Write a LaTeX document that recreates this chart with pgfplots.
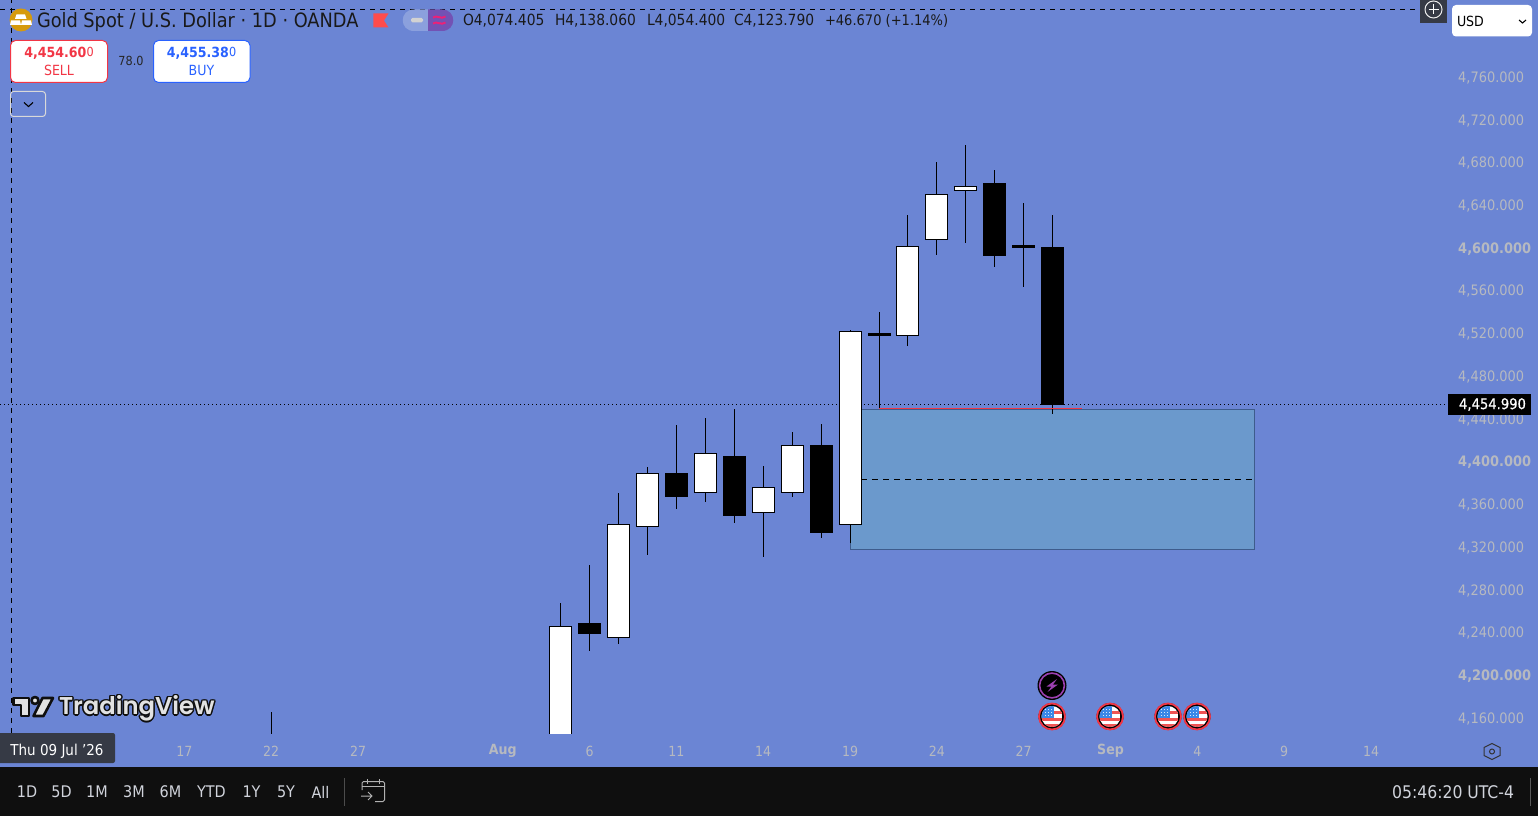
\documentclass[border=0pt]{standalone}
\usepackage{fontspec}
\setmainfont{DejaVu Sans Condensed}
\newfontfamily\heavyfont{DejaVu Sans Condensed}[FakeBold=0.5]
\newfontfamily\logofont{Poppins}[BoldFont={Poppins SemiBold}]
\usepackage{pgfplots}
\pgfplotsset{compat=1.18}

\definecolor{chartbg}{RGB}{107,133,212}
\definecolor{zonefill}{RGB}{107,153,204}
\definecolor{zoneline}{RGB}{62,92,140}
\definecolor{axistext}{RGB}{182,185,192}
\definecolor{barbg}{RGB}{15,15,15}
\definecolor{bartext}{RGB}{209,212,220}
\definecolor{tagdark}{RGB}{54,58,69}
\definecolor{tvred}{RGB}{242,54,69}
\definecolor{tvblue}{RGB}{41,98,255}
\definecolor{logoface}{RGB}{226,226,226}
\definecolor{goldicon}{RGB}{214,154,12}
\definecolor{flagblue}{RGB}{58,136,232}
\definecolor{flagred}{RGB}{240,84,84}
\definecolor{eventpurple}{RGB}{156,64,176}

\newcommand{\fs}[1]{\fontsize{#1}{#1}\selectfont}

% fill colour, x, low, body bottom, body top, high
\newcommand{\candle}[6]{%
  \pgfmathsetmacro{\xl}{#2-0.38}%
  \pgfmathsetmacro{\xr}{#2+0.38}%
  \addplot[black, line width=1pt] coordinates {(#2,#3) (#2,#6)};
  \addplot[fill=#1, draw=black, line width=1pt] coordinates {(\xl,#4) (\xr,#4) (\xr,#5) (\xl,#5)} --cycle;
}

% economic calendar flag
\newcommand{\usflag}[2]{%
  \fill[black] (#1,#2) circle (13.5);
  \draw[tvred,line width=1.8pt] (#1,#2) circle (13);
  \begin{scope}
    \clip (#1,#2) circle (10.5);
    \fill[white] (#1-11,#2-11) rectangle (#1+11,#2+11);
    \fill[flagred] (#1-11,#2-6) rectangle (#1+11,#2-3);
    \fill[flagred] (#1-11,#2+1.5) rectangle (#1+11,#2+4.5);
    \fill[flagred] (#1-11,#2+7.5) rectangle (#1+11,#2+11);
    \fill[flagblue] (#1-11,#2-11) rectangle (#1+1.5,#2+1.5);
    \foreach \dx in {-6.5,-3.5,-0.5}
      \foreach \dy in {-7,-4,-1}
        \fill[white!80!flagblue] (#1+\dx-0.6,#2+\dy-0.6) rectangle (#1+\dx+0.6,#2+\dy+0.6);
  \end{scope}}

\begin{document}
\begin{tikzpicture}
\path[use as bounding box] (0,-83pt) rectangle (1538pt,733pt);
\fill[chartbg] (0,-34pt) rectangle (1538pt,733pt);

\begin{axis}[
    scale only axis,
    width=1538pt,
    height=733pt,
    xmin=-29.37, xmax=23.77,
    ymin=4145.5, ymax=4831.6,
    axis line style={draw=none},
    tick style={draw=none},
    major tick length=0pt,
    ytick={4160,4200,4240,4280,4320,4360,4400,4440,4480,4520,4560,4600,4640,4680,4720,4760},
    yticklabels={{4,160.000},\textbf{4,200.000},{4,240.000},{4,280.000},{4,320.000},{4,360.000},\textbf{4,400.000},{4,440.000},{4,480.000},{4,520.000},{4,560.000},\textbf{4,600.000},{4,640.000},{4,680.000},{4,720.000},{4,760.000}},
    yticklabel pos=right,
    yticklabel style={anchor=west, xshift=-80pt, yshift=-1.3pt, inner sep=0pt, text=axistext, font=\fs{14.4}},
    xtick={-23,-20,-17,-12,-9,-6,-3,0,3,6,9,12,15,18},
    xticklabels={17,22,27,\textbf{Aug},6,11,14,19,24,27,\textbf{Sep},4,9,14},
    xticklabel style={anchor=center, yshift=-18pt, inner sep=0pt, text=axistext, font=\fs{14}},
]

  % demand zone and its midline
  \addplot[fill=zonefill, draw=zoneline, line width=1pt] coordinates {(0,4448.5) (13.97,4448.5) (13.97,4317.4) (0,4317.4)} --cycle;
  \addplot[black, line width=1pt, dash pattern=on 6pt off 5pt] coordinates {(0,4383.0) (13.97,4383.0)};

  % last price and crosshair
  \addplot[black, line width=1pt, dash pattern=on 1pt off 3pt] coordinates {(-29.37,4453.0) (20.66,4453.0)};
  \addplot[black, line width=1pt, dash pattern=on 5pt off 5pt] coordinates {(-29.37,4822.6) (19.66,4822.6)};
  \addplot[black, line width=1pt, dash pattern=on 5pt off 5pt] coordinates {(-28.97,4145.5) (-28.97,4831.6)};

  % daily candles
  \addplot[black, line width=1pt] coordinates {(-20,4120) (-20,4165.1)};
  \candle{white}{-10}{4120}{4120}{4244.9}{4267.2}
  \candle{black}{-9}{4222.5}{4238.6}{4248.0}{4302.7}
  \candle{white}{-8}{4229.1}{4235.1}{4340.4}{4370.1}
  \candle{white}{-7}{4312.4}{4339.0}{4388.1}{4394.5}
  \candle{black}{-6}{4355.4}{4366.9}{4388.4}{4433.8}
  \candle{white}{-5}{4362.0}{4370.9}{4406.8}{4440.3}
  \candle{black}{-4}{4342.3}{4349.1}{4404.3}{4448.8}
  \candle{white}{-3}{4310.5}{4352.2}{4375.0}{4395.4}
  \candle{white}{-2}{4366.7}{4370.9}{4414.3}{4427.2}
  \candle{black}{-1}{4328.3}{4333.1}{4414.6}{4434.7}
  \candle{white}{0}{4323.0}{4340.9}{4521.0}{4522.7}
  \candle{black}{1}{4449.7}{4517.6}{4519.4}{4539.6}
  \candle{white}{2}{4507.7}{4517.8}{4600.6}{4630.4}
  \candle{white}{3}{4593.2}{4607.7}{4649.3}{4680.0}
  \candle{white}{4}{4604.4}{4653.6}{4657.0}{4695.9}
  \candle{black}{5}{4581.7}{4592.4}{4659.8}{4672.5}
  \candle{black}{6}{4563.0}{4599.9}{4601.8}{4641.6}
  \candle{black}{7}{4444.4}{4453.0}{4599.9}{4630.4}

  % level drawn on the chart
  \addplot[tvred, line width=1.3pt] coordinates {(1,4449.0) (8,4449.0)};
\end{axis}

% screen furniture, in image pixels
\begin{scope}[x=1pt,y=-1pt,yshift=733pt,every node/.style={inner sep=0pt,outer sep=0pt}]
  % bottom bar
  \fill[barbg] (0,767) rectangle (1538,816);
  \foreach \xx/\lab in {27/1D,61.5/5D,97/1M,134/3M,170.5/6M,211.5/YTD,251.5/1Y,286/5Y,320.5/All}
    \node[text=bartext,font=\fs{16}] at (\xx,792) {\lab};
  \draw[gray!60!black] (344.5,778) -- (344.5,806);
  \draw[gray!60!white,line width=1pt,rounded corners=1.5] (362,790) -- (362,781.5) -- (384.5,781.5) -- (384.5,801.5) -- (375,801.5);
  \draw[gray!60!white,line width=1pt] (362,786.5) -- (384.5,786.5) (367.5,779) -- (367.5,784) (379,779) -- (379,784);
  \draw[gray!60!white,line width=1pt] (361,796) -- (372,796) (368,792) -- (372,796) -- (368,800);
  \node[anchor=east,text=bartext,font=\fs{17.4}] at (1514,792) {05:46:20 UTC-4};
  \draw[gray!70!black,line width=1pt] (1530.5,778) -- (1530.5,806);

  % time axis extras
  \fill[tagdark,rounded corners=2] (-3,733) rectangle (115,763);
  \node[text=white,font=\fs{15}] at (57,751) {Thu 09 Jul '26};
  \draw[black!80,line width=1pt] (1492,743.5) -- (1500,747.5) -- (1500,755.5) -- (1492,759.5) -- (1484,755.5) -- (1484,747.5) -- cycle;
  \draw[black!80,line width=1pt] (1492,751.5) circle (2.5);

  % header
  \fill[goldicon] (21,20) circle (11.5);
  \fill[white] (16.5,14.5) -- (25,14.5) -- (26.5,19) -- (15,19) -- cycle;
  \fill[white] (11,20.5) -- (20,20.5) -- (21,25) -- (10,25) -- cycle;
  \fill[white] (22,20.5) -- (31,20.5) -- (32,25) -- (21,25) -- cycle;
  \node[anchor=west,text=black!90,font=\fs{19.75}] at (37,22) {Gold Spot / U.S. Dollar · 1D · OANDA};
  \fill[red!70!white] (373.3,13.5) -- (388.5,13.5) -- (384,20.5) -- (388.5,27.5) -- (373.3,27.5) -- cycle;
  \fill[chartbg!78!white] (428,9.5) -- (414,9.5) .. controls (399,9.5) and (399,31) .. (414,31) -- (428,31) -- cycle;
  \fill[violet!38!chartbg] (428,9.5) -- (442,9.5) .. controls (457,9.5) and (457,31) .. (442,31) -- (428,31) -- cycle;
  \fill[gray!35!white,rounded corners=1.5] (411,18) rectangle (423,22.5);
  \draw[magenta!70!red!90!white,line width=1.9pt] (433,17.5) .. controls (437,14.5) and (441,20) .. (445.5,16.5);
  \draw[magenta!70!red!90!white,line width=1.9pt] (433,23.5) .. controls (437,20.5) and (441,26) .. (445.5,22.5);
  \node[anchor=west,text=black!90,font=\fs{15.4}] at (463,21) {O4,074.405};
  \node[anchor=west,text=black!90,font=\fs{15.4}] at (555,21) {H4,138.060};
  \node[anchor=west,text=black!90,font=\fs{15.4}] at (647,21) {L4,054.400};
  \node[anchor=west,text=black!90,font=\fs{15.4}] at (734,21) {C4,123.790};
  \node[anchor=west,text=black!90,font=\fs{14.5}] at (825,21) {+46.670 (+1.14\%)};

  % order buttons
  \draw[tvred,fill=white,line width=1pt,rounded corners=5] (10.5,40.5) rectangle (107.5,82.5);
  \node[text=tvred,font=\fs{14}] at (59,53.5) {\textbf{4,454.60}\raisebox{1.5pt}{\fs{12.5}0}};
  \node[text=tvred,font=\fs{14}] at (59,70.5) {SELL};
  \node[text=black!85,font=\fs{12.5}] at (131,60.5) {78.0};
  \draw[tvblue,fill=white,line width=1pt,rounded corners=5] (153.5,40.5) rectangle (250,82.5);
  \node[text=tvblue,font=\fs{14}] at (201.5,53.5) {\textbf{4,455.38}\raisebox{1.5pt}{\fs{12.5}0}};
  \node[text=tvblue,font=\fs{14}] at (201.5,70.5) {BUY};
  \draw[gray!30!white,line width=1pt,rounded corners=3] (10.5,91.5) rectangle (45.5,116.5);
  \draw[black,line width=1.1pt] (24,102.5) -- (28.5,106.5) -- (33,102.5);

  % top right controls
  \fill[tagdark] (1420,0) rectangle (1447,23);
  \draw[white!85!gray,line width=1pt] (1433.5,9.5) circle (8.5);
  \draw[white,line width=1pt] (1428.5,9.5) -- (1438.5,9.5) (1433.5,4.5) -- (1433.5,14.5);
  \fill[white,rounded corners=4] (1452,5) rectangle (1532,36.5);
  \node[anchor=west,text=black,font=\fs{14}] at (1457,21.5) {USD};
  \draw[black,line width=1.1pt] (1519,20) -- (1522.5,23) -- (1526,20);

  % last price tag
  \fill[black] (1448,394) rectangle (1531,415);
  \node[text=white,font=\heavyfont\fs{14.6}] at (1492.5,404.5) {4,454.990};

  % logo
  \begin{scope}[line join=round]
    \path[draw=barbg,line width=2.6pt,fill=logoface] (13.5,698) -- (29,698) -- (29,716) -- (21,716) -- (21,705) -- (13.5,705) -- cycle;
    \path[draw=barbg,line width=2.6pt,fill=logoface] (35,700.5) circle (3.5);
    \path[draw=barbg,line width=2.6pt,fill=logoface] (42.5,698) -- (53,698) -- (43.5,716) -- (33.5,716) -- cycle;
    \foreach \dx/\dy in {-1.5/0,1.5/0,0/-1.5,0/1.5,-1.1/-1.1,1.1/-1.1,-1.1/1.1,1.1/1.1}
      \node[anchor=west,text=barbg,font=\logofont\bfseries\fs{24.3}] at (59+\dx,708.5+\dy) {TradingView};
    \node[anchor=west,text=logoface,font=\logofont\bfseries\fs{24.3}] at (59,708.5) {TradingView};
  \end{scope}

  % calendar events
  \fill[black] (1052,685.5) circle (14.5);
  \draw[eventpurple,line width=1.6pt] (1052,685.5) circle (12.4);
  \fill[eventpurple] (1057,679) -- (1046.5,686.5) -- (1051.5,686.5) -- (1047.5,692) -- (1058,684.5) -- (1053,684.5) -- cycle;
  \usflag{1052}{716.5}
  \usflag{1110}{716.5}
  \usflag{1168}{716.5}
  \usflag{1197}{716.5}
\end{scope}
\end{tikzpicture}
\end{document}
